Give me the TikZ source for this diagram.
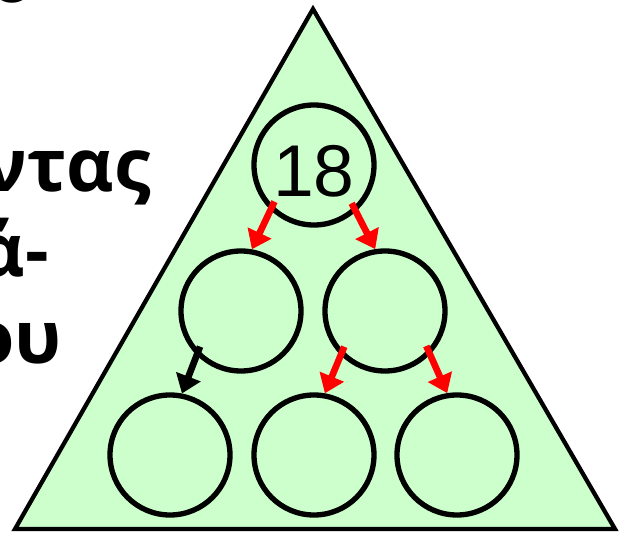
\documentclass[tikz,border=0pt]{standalone}
\usepackage{fontspec}
\setmainfont{Liberation Sans}
\newfontfamily\grfont{Open Sans}
\usetikzlibrary{arrows.meta}

\definecolor{heapgreen}{RGB}{204,255,204}

\begin{document}
\begin{tikzpicture}[x=0.75pt,y=0.75pt,line width=3.2pt,
  heapnode/.style={circle,draw,line width=4pt,inner sep=0pt,minimum size=90pt,
    font=\fontsize{55}{66}\selectfont},
  swaparr/.style={red,line width=5pt,-{Triangle[length=13.5pt,width=19pt]},shorten <=-7pt},
  word/.style={anchor=base east,inner sep=0pt,font=\grfont\bfseries\fontsize{55}{66}\selectfont}]
 \useasboundingbox (0,0) rectangle (622,533);
 \clip (0,0) rectangle (622,533);
 \node[word,anchor=base] (w0) at (12,530) {ο};
 \node[word] (w1) at (153,341) {ντας};
 \node[word] (w2) at (51,256) {ά-};
 \node[word] (w3) at (64,170) {ου};
 \draw[fill=heapgreen] (15,4)--(615,4)--(313,524)--cycle;
 \node[heapnode,text height=48pt] (n18) at (314,368) {18};
 \foreach \nm/\x/\y in {ml/241/222,mr/385/222,bl/170/78,bm/314/78,br/457/78}{%
   \node[heapnode] (\nm) at (\x,\y) {};
 }
 \foreach \a/\p/\b/\q in {n18/226/ml/80,n18/312/mr/99,mr/225/bm/80,mr/316/br/99}{%
   \draw[swaparr] (\a.\p) -- (\b.\q);
 }
 \draw[swaparr,black] (ml.225) -- (bl.79);
\end{tikzpicture}
\end{document}
